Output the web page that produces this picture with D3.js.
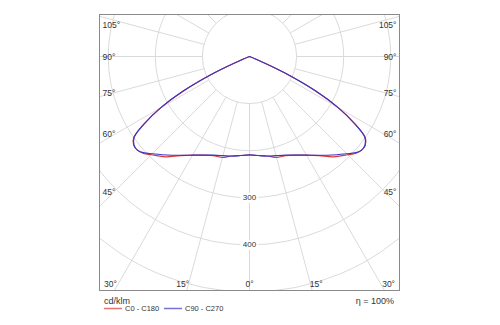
<!DOCTYPE html>
<html>
<head>
<meta charset="utf-8">
<script src="https://cdn.jsdelivr.net/npm/d3@7/dist/d3.min.js"></script>
<style>
  html, body { margin: 0; padding: 0; background: #fff; }
  svg { display: block; }
  text { font-family: "Liberation Sans", Arial, sans-serif; fill: #333; }
</style>
</head>
<body>
<svg id="chart" width="500" height="325"></svg>
<script>
// Luminous intensity distribution, gamma measured from nadir (0°)
const gammas = [0, 5, 10, 15, 20, 25, 30, 35, 40, 45, 47.5, 50, 52.5, 55, 57.5, 60, 62.5, 65, 67.5, 70, 75, 90];
const c0c180 = [209, 211, 214, 222, 224, 231, 242, 257, 278, 295, 305, 310, 310, 300, 264, 218, 156, 82, 14, 0, 0, 0];
const c90c270 = [209, 211, 215, 218, 223, 231, 242, 256, 273, 292, 303, 310, 309, 299, 264, 218, 158, 84, 15, 0, 0, 0];
const seriesNames = ["C0 - C180", "C90 - C270"];
const seriesColors = ["#d83a3a", "#3a36c4"];
const ringValues = [100, 200, 300, 400, 500, 600];
const ringLabels = [300, 400];
const sideAngles = [45, 60, 75, 90, 105];
const bottomAngles = [30, 15, 0, 15, 30];
const unitLabel = "cd/klm";
const efficiencyLabel = "η = 100%";

const svg = d3.select("#chart");
const frame = { left: 99.5, top: 14.5, right: 399.5, bottom: 290.5 };
const cx = (frame.left + frame.right) / 2;
const cy = 56.5;
const r = d3.scaleLinear().domain([0, 100]).range([0, 47.1]);
const rad = d => d * Math.PI / 180;

svg.append("defs").append("clipPath").attr("id", "plotClip")
  .append("rect")
  .attr("x", frame.left).attr("y", frame.top)
  .attr("width", frame.right - frame.left).attr("height", frame.bottom - frame.top);

const plot = svg.append("g").attr("clip-path", "url(#plotClip)");
const polar = plot.append("g").attr("transform", `translate(${cx},${cy})`);

// rings
polar.selectAll("circle.ring").data(ringValues).join("circle")
  .attr("class", "ring")
  .attr("r", d => r(d))
  .attr("fill", "none")
  .attr("stroke", "#dadada")
  .attr("stroke-width", 1);

// spokes every 15°, starting at the first ring
const spokeAngles = d3.range(0, 360, 15);
polar.selectAll("line.spoke").data(spokeAngles).join("line")
  .attr("class", "spoke")
  .attr("x1", d => r(ringValues[0]) * Math.sin(rad(d)))
  .attr("y1", d => r(ringValues[0]) * Math.cos(rad(d)))
  .attr("x2", d => r(800) * Math.sin(rad(d)))
  .attr("y2", d => r(800) * Math.cos(rad(d)))
  .attr("stroke", "#dadada")
  .attr("stroke-width", 1);

// ring value labels on the nadir axis
const rl = polar.selectAll("g.rlab").data(ringLabels).join("g")
  .attr("class", "rlab")
  .attr("transform", d => `translate(0,${r(d)})`);
rl.append("rect").attr("x", -9).attr("y", -5).attr("width", 18).attr("height", 10).attr("fill", "#fff");
rl.append("text").attr("text-anchor", "middle").attr("dominant-baseline", "central")
  .attr("font-size", 8).text(d => d);

// intensity curves: left half negative gamma, right half positive
function curvePoints(values) {
  const last = values.findIndex((v, i) => i > 0 && v === 0);
  const idx = d3.range(0, last + 1);
  const left = idx.slice().reverse().map(i => [Math.PI + rad(gammas[i]), r(values[i])]);
  const right = idx.slice(1).map(i => [Math.PI - rad(gammas[i]), r(values[i])]);
  return left.concat(right);
}
const line = d3.lineRadial().curve(d3.curveCatmullRom.alpha(0.5));
[c0c180, c90c270].forEach((vals, k) => {
  polar.append("path")
    .attr("d", line(curvePoints(vals)))
    .attr("fill", "none")
    .attr("stroke", seriesColors[k])
    .attr("stroke-width", 1.2)
    .attr("stroke-linejoin", "round");
});

// frame
svg.append("rect")
  .attr("x", frame.left).attr("y", frame.top)
  .attr("width", frame.right - frame.left).attr("height", frame.bottom - frame.top)
  .attr("fill", "none").attr("stroke", "#8a8a8a").attr("stroke-width", 1);

// angle labels along the sides
const sideDist = 135;
sideAngles.forEach(g => {
  let y = cy + sideDist / Math.tan(rad(g));
  y = Math.max(frame.top + 10, y);
  svg.append("text").attr("x", frame.left + 3).attr("y", y)
    .attr("dominant-baseline", "central").attr("font-size", 8.5).text(g + "°");
  svg.append("text").attr("x", frame.right - 3).attr("y", y)
    .attr("text-anchor", "end")
    .attr("dominant-baseline", "central").attr("font-size", 8.5).text(g + "°");
});
// angle labels along the bottom
bottomAngles.forEach((g, i) => {
  const side = i < 2 ? -1 : (i > 2 ? 1 : 0);
  const dx = (frame.bottom - cy) * Math.tan(rad(g)) + (g ? 4 : 0);
  svg.append("text").attr("x", cx + side * dx).attr("y", frame.bottom - 6.5)
    .attr("text-anchor", "middle").attr("dominant-baseline", "central")
    .attr("font-size", 8.5).text(g + "°");
});

// unit, efficiency and legend
svg.append("text").attr("x", 104).attr("y", 300.5).attr("dominant-baseline", "central")
  .attr("font-size", 9).text(unitLabel);
svg.append("text").attr("x", 394).attr("y", 300.5).attr("text-anchor", "end")
  .attr("dominant-baseline", "central").attr("font-size", 9).text(efficiencyLabel);

const legend = svg.append("g").attr("transform", "translate(104,308.5)");
seriesNames.forEach((name, k) => {
  const g = legend.append("g").attr("transform", `translate(${k * 60},0)`);
  g.append("line").attr("x1", 0).attr("x2", 18).attr("y1", 0).attr("y2", 0)
    .attr("stroke", seriesColors[k]).attr("stroke-opacity", 0.7).attr("stroke-width", 1.5);
  g.append("text").attr("x", 21).attr("y", 0).attr("dominant-baseline", "central")
    .attr("font-size", 7.5).text(name);
});
</script>
</body>
</html>
